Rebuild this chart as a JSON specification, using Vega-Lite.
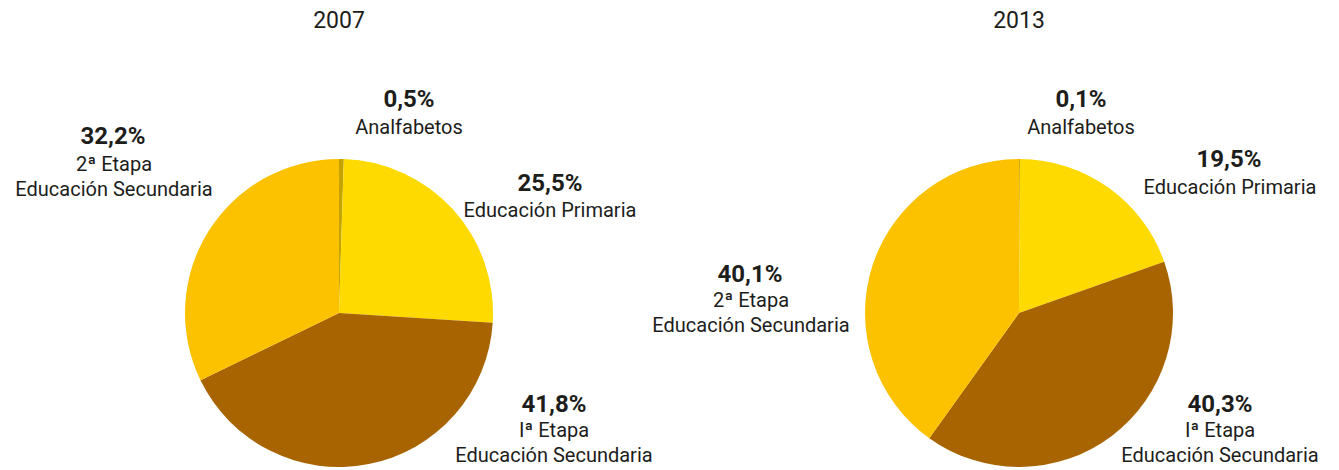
{
  "$schema": "https://vega.github.io/schema/vega-lite/v6.json",
  "padding": {"left": 15, "top": 10, "right": 5, "bottom": 0},
  "bounds": "flush",
  "spacing": 366,
  "config": {
    "view": {"stroke": null},
    "font": "Roboto",
    "title": {"fontSize": 23, "fontWeight": "normal", "color": "#1d1d1b", "frame": "group", "offset": 55, "anchor": "middle"},
    "text": {"color": "#1d1d1b", "font": "Roboto"}
  },
  "datasets": {
    "d2007": [
      {"categoria": "Analfabetos", "orden": 1, "valor": 0.5, "pct": "0,5%", "nombre": "Analfabetos"},
      {"categoria": "Educación Primaria", "orden": 2, "valor": 25.5, "pct": "25,5%", "nombre": "Educación Primaria"},
      {"categoria": "1ª Etapa Educación Secundaria", "orden": 3, "valor": 41.8, "pct": "41,8%", "nombre": "Iª Etapa\nEducación Secundaria"},
      {"categoria": "2ª Etapa Educación Secundaria", "orden": 4, "valor": 32.2, "pct": "32,2%", "nombre": "2ª Etapa\nEducación Secundaria"}
    ],
    "d2013": [
      {"categoria": "Analfabetos", "orden": 1, "valor": 0.1, "pct": "0,1%", "nombre": "Analfabetos"},
      {"categoria": "Educación Primaria", "orden": 2, "valor": 19.5, "pct": "19,5%", "nombre": "Educación Primaria"},
      {"categoria": "1ª Etapa Educación Secundaria", "orden": 3, "valor": 40.3, "pct": "40,3%", "nombre": "Iª Etapa\nEducación Secundaria"},
      {"categoria": "2ª Etapa Educación Secundaria", "orden": 4, "valor": 40.1, "pct": "40,1%", "nombre": "2ª Etapa\nEducación Secundaria"}
    ]
  },
  "hconcat": [
    {
      "width": 314, "height": 314,
      "title": {"text": "2007"},
      "data": {"name": "d2007"},
      "layer": [
        {"mark": {"type": "arc", "outerRadius": 154},
         "encoding": {
           "theta": {"field": "valor", "type": "quantitative", "stack": true},
           "order": {"field": "orden", "type": "quantitative"},
           "color": {"field": "categoria", "type": "nominal", "legend": null,
           "scale": {"domain": ["Analfabetos", "Educación Primaria", "1ª Etapa Educación Secundaria", "2ª Etapa Educación Secundaria"],
                     "range": ["#C4A400", "#FFDA00", "#A86400", "#FCC200"]}}}},
        {"transform": [{"filter": "datum.categoria == 'Analfabetos'"}],
         "layer": [
           {"mark": {"type": "text", "fontSize": 24, "fontWeight": "bold", "baseline": "middle", "dx": 70, "dy": -213}, "encoding": {"text": {"field": "pct", "type": "nominal"}}},
           {"mark": {"type": "text", "fontSize": 20, "baseline": "top", "lineBreak": "\n", "lineHeight": 25, "dx": 70, "dy": -195}, "encoding": {"text": {"field": "nombre", "type": "nominal"}}}
         ]},
        {"transform": [{"filter": "datum.categoria == 'Educación Primaria'"}],
         "layer": [
           {"mark": {"type": "text", "fontSize": 24, "fontWeight": "bold", "baseline": "middle", "dx": 211, "dy": -129}, "encoding": {"text": {"field": "pct", "type": "nominal"}}},
           {"mark": {"type": "text", "fontSize": 20, "baseline": "top", "lineBreak": "\n", "lineHeight": 25, "dx": 211, "dy": -112}, "encoding": {"text": {"field": "nombre", "type": "nominal"}}}
         ]},
        {"transform": [{"filter": "datum.categoria == '1ª Etapa Educación Secundaria'"}],
         "layer": [
           {"mark": {"type": "text", "fontSize": 24, "fontWeight": "bold", "baseline": "middle", "dx": 215, "dy": 92}, "encoding": {"text": {"field": "pct", "type": "nominal"}}},
           {"mark": {"type": "text", "fontSize": 20, "baseline": "top", "lineBreak": "\n", "lineHeight": 25, "dx": 215, "dy": 108}, "encoding": {"text": {"field": "nombre", "type": "nominal"}}}
         ]},
        {"transform": [{"filter": "datum.categoria == '2ª Etapa Educación Secundaria'"}],
         "layer": [
           {"mark": {"type": "text", "fontSize": 24, "fontWeight": "bold", "baseline": "middle", "dx": -226, "dy": -176}, "encoding": {"text": {"field": "pct", "type": "nominal"}}},
           {"mark": {"type": "text", "fontSize": 20, "baseline": "top", "lineBreak": "\n", "lineHeight": 25, "dx": -225, "dy": -158}, "encoding": {"text": {"field": "nombre", "type": "nominal"}}}
         ]}
      ]
    },
    {
      "width": 314, "height": 314,
      "title": {"text": "2013"},
      "data": {"name": "d2013"},
      "layer": [
        {"mark": {"type": "arc", "outerRadius": 154},
         "encoding": {
           "theta": {"field": "valor", "type": "quantitative", "stack": true},
           "order": {"field": "orden", "type": "quantitative"},
           "color": {"field": "categoria", "type": "nominal", "legend": null,
           "scale": {"domain": ["Analfabetos", "Educación Primaria", "1ª Etapa Educación Secundaria", "2ª Etapa Educación Secundaria"],
                     "range": ["#C4A400", "#FFDA00", "#A86400", "#FCC200"]}}}},
        {"transform": [{"filter": "datum.categoria == 'Analfabetos'"}],
         "layer": [
           {"mark": {"type": "text", "fontSize": 24, "fontWeight": "bold", "baseline": "middle", "dx": 62, "dy": -213}, "encoding": {"text": {"field": "pct", "type": "nominal"}}},
           {"mark": {"type": "text", "fontSize": 20, "baseline": "top", "lineBreak": "\n", "lineHeight": 25, "dx": 62, "dy": -195}, "encoding": {"text": {"field": "nombre", "type": "nominal"}}}
         ]},
        {"transform": [{"filter": "datum.categoria == 'Educación Primaria'"}],
         "layer": [
           {"mark": {"type": "text", "fontSize": 24, "fontWeight": "bold", "baseline": "middle", "dx": 210, "dy": -153}, "encoding": {"text": {"field": "pct", "type": "nominal"}}},
           {"mark": {"type": "text", "fontSize": 20, "baseline": "top", "lineBreak": "\n", "lineHeight": 25, "dx": 211, "dy": -135}, "encoding": {"text": {"field": "nombre", "type": "nominal"}}}
         ]},
        {"transform": [{"filter": "datum.categoria == '1ª Etapa Educación Secundaria'"}],
         "layer": [
           {"mark": {"type": "text", "fontSize": 24, "fontWeight": "bold", "baseline": "middle", "dx": 201, "dy": 92}, "encoding": {"text": {"field": "pct", "type": "nominal"}}},
           {"mark": {"type": "text", "fontSize": 20, "baseline": "top", "lineBreak": "\n", "lineHeight": 25, "dx": 201, "dy": 108}, "encoding": {"text": {"field": "nombre", "type": "nominal"}}}
         ]},
        {"transform": [{"filter": "datum.categoria == '2ª Etapa Educación Secundaria'"}],
         "layer": [
           {"mark": {"type": "text", "fontSize": 24, "fontWeight": "bold", "baseline": "middle", "dx": -269, "dy": -38}, "encoding": {"text": {"field": "pct", "type": "nominal"}}},
           {"mark": {"type": "text", "fontSize": 20, "baseline": "top", "lineBreak": "\n", "lineHeight": 25, "dx": -268, "dy": -22}, "encoding": {"text": {"field": "nombre", "type": "nominal"}}}
         ]}
      ]
    }
  ]
}
